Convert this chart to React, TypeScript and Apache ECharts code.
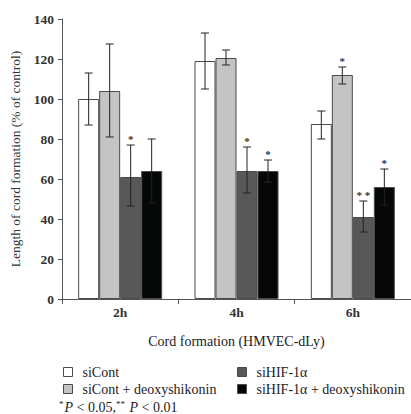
import React, { useEffect, useRef } from "react";
import * as echarts from "echarts";

const categories = ["2h", "4h", "6h"];
const seriesNames = ["siCont", "siCont + deoxyshikonin", "siHIF-1α", "siHIF-1α + deoxyshikonin"];
const siCont = [100, 119, 87.5];
const siContDeoxy = [104, 120.5, 112];
const siHIF = [61, 64, 41];
const siHIFDeoxy = [64, 64, 56];
const errHigh = [
  [113, 133, 94],
  [127.5, 124.5, 116],
  [77, 76, 49],
  [80, 69.5, 65],
];
const errLow = [
  [87, 105, 80],
  [81, 117, 107.5],
  [46.5, 53, 33.5],
  [48, 58.5, 47],
];
const significance = [
  ["", "", ""],
  ["", "", "*"],
  ["*", "*", "**"],
  ["", "*", "*"],
];
const yTicks = { min: 0, max: 140, interval: 20 };

const colors = ["#ffffff", "#c4c4c4", "#585858", "#060808"];
const FONT = "'Liberation Serif', 'Times New Roman', serif";
const BAR_W = 21;

export default function App() {
  const ref = useRef<HTMLDivElement>(null);
  useEffect(() => {
    document.body.style.margin = "0";
    const chart = echarts.init(ref.current!, null, { renderer: "svg" });
    const values = [siCont, siContDeoxy, siHIF, siHIFDeoxy];
    const errData: any[] = [];
    values.forEach((arr, s) => {
      arr.forEach((_, c) => {
        errData.push([c, s, errLow[s][c], errHigh[s][c], significance[s][c]]);
      });
    });
    const barSeries = values.map((arr, i) => ({
      type: "bar",
      name: seriesNames[i],
      data: arr,
      barWidth: BAR_W,
      barGap: "0%",
      itemStyle: { color: colors[i], borderColor: "#4a4a4a", borderWidth: 1 },
      silent: true,
    }));
    const legendBase = {
      orient: "vertical",
      top: 365,
      padding: 0,
      itemWidth: 9,
      itemHeight: 9,
      itemGap: 3,
      icon: "rect",
      itemStyle: { borderColor: "#4a4a4a", borderWidth: 1 },
      textStyle: { fontFamily: FONT, fontSize: 14, lineHeight: 12, color: "#222", padding: [0, 0, 0, 5] },
    };
    chart.setOption({
      animation: false,
      grid: { left: 62, top: 19, width: 350, height: 280, containLabel: false },
      xAxis: {
        type: "category",
        data: categories,
        boundaryGap: true,
        name: "Cord formation (HMVEC-dLy)",
        nameLocation: "middle",
        nameGap: 35,
        nameTextStyle: { fontFamily: FONT, fontSize: 14, color: "#222" },
        axisLine: { lineStyle: { color: "#555", width: 1 } },
        axisTick: { show: true, length: 5, lineStyle: { color: "#555" } },
        axisLabel: { fontFamily: FONT, fontSize: 13.5, fontWeight: "bold", color: "#333", margin: 6 },
      },
      yAxis: {
        type: "value",
        min: yTicks.min,
        max: yTicks.max,
        interval: yTicks.interval,
        name: "Length of cord formation (% of control)",
        nameLocation: "middle",
        nameGap: 40,
        nameTextStyle: { fontFamily: FONT, fontSize: 13.5, color: "#333" },
        axisLine: { show: true, lineStyle: { color: "#555", width: 1 } },
        axisTick: { show: true, length: 4, lineStyle: { color: "#555" } },
        axisLabel: { fontFamily: FONT, fontSize: 13.5, fontWeight: "bold", color: "#333", margin: 8 },
        splitLine: { show: false },
      },
      legend: [
        { ...legendBase, data: [seriesNames[0], seriesNames[1]], left: 63 },
        { ...legendBase, data: [seriesNames[2], seriesNames[3]], left: 237 },
      ],
      graphic: [
        {
          type: "text",
          left: 59,
          top: 399,
          style: {
            text: "{s|*}{i|P} < 0.05,{s|**} {i|P} < 0.01",
            fontFamily: FONT,
            fontSize: 14,
            lineHeight: 16,
            fill: "#222",
            rich: {
              s: { fontFamily: FONT, fontSize: 9, lineHeight: 16, fill: "#222", padding: [0, 1, 6, 0] },
              i: { fontFamily: FONT, fontSize: 14, lineHeight: 16, fontStyle: "italic", fill: "#222" },
            },
          },
        },
      ],
      series: [
        ...barSeries,
        {
          type: "custom",
          name: "errors",
          data: errData,
          encode: { x: 0, y: [2, 3] },
          z: 10,
          silent: true,
          renderItem: (params: any, api: any) => {
            const c = api.value(0);
            const s = api.value(1);
            const lo = api.value(2);
            const hi = api.value(3);
            const sig = errData[params.dataIndex][4];
            const x = api.coord([c, 0])[0] + (s - 1.5) * BAR_W;
            const yHi = api.coord([c, hi])[1];
            const yLo = api.coord([c, lo])[1];
            const cap = 4;
            const st = { stroke: "#222", lineWidth: 1 };
            const children: any[] = [
              { type: "line", shape: { x1: x, y1: yHi, x2: x, y2: yLo }, style: st },
              { type: "line", shape: { x1: x - cap, y1: yHi, x2: x + cap, y2: yHi }, style: st },
              { type: "line", shape: { x1: x - cap, y1: yLo, x2: x + cap, y2: yLo }, style: st },
            ];
            if (sig) {
              children.push({
                type: "text",
                x: x,
                y: yHi - 6,
                style: {
                  text: sig.split("").join(" "),
                  align: "center",
                  verticalAlign: "middle",
                  fontFamily: FONT,
                  fontSize: 11,
                  fontWeight: "bold",
                  fill: "#333",
                },
              });
            }
            return { type: "group", children };
          },
        },
      ],
    });
    return () => chart.dispose();
  }, []);
  return <div ref={ref} style={{ width: 411, height: 414 }} />;
}
